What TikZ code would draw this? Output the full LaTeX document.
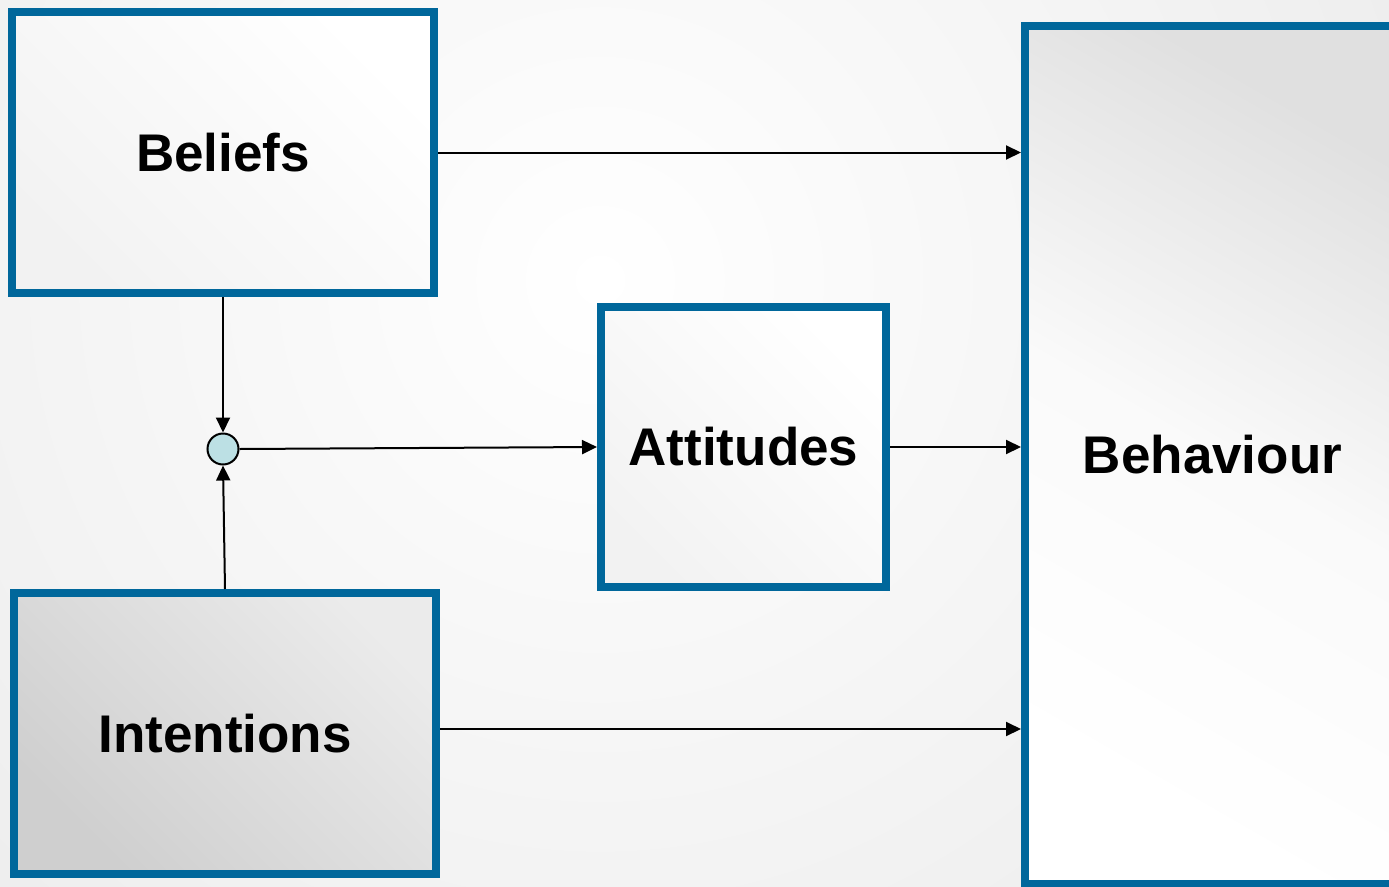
\documentclass[tikz,border=0pt]{standalone}
\usepackage{fontspec}
\setmainfont{Liberation Sans}
\usetikzlibrary{arrows.meta}
\definecolor{boxblue}{RGB}{0,103,155}
\definecolor{dotfill}{RGB}{188,224,228}
\tikzset{
  box/.style={draw=boxblue, line width=8pt, rectangle, inner sep=0pt,
    font=\fontsize{53}{60}\selectfont\bfseries},
  conn/.style={line width=2pt, -{Triangle[length=15pt,width=14pt]}},
  joint/.style={circle, draw=black, line width=2pt, fill=dotfill, minimum size=31pt, inner sep=0pt}
}
\begin{document}
\begin{tikzpicture}[x=1pt,y=-1pt]
\useasboundingbox (0,0) rectangle (1389,886);
\begin{scope}
  \clip (0,0) rectangle (1389,886);
  \shade[inner color=white, outer color=black!15] (600,280) circle (1900pt);
  \node[box, minimum width=375pt, minimum height=858pt,
        top color=black!12, bottom color=white, middle color=black!2, shading angle=-30]
        (beh) at (1212.5,455) {Behaviour};
\end{scope}
\node[box, minimum width=422pt, minimum height=281pt,
      top color=white, bottom color=black!5, shading angle=-45]
      (bel) at (223,152.5) {Beliefs};
\node[box, minimum width=285pt, minimum height=280pt,
      top color=white, bottom color=black!5, shading angle=-45]
      (att) at (743.5,447) {Attitudes};
\node[box, minimum width=422pt, minimum height=281pt,
      top color=black!8, bottom color=black!19, shading angle=-45]
      (int) at (225,733.5) {Intentions};
\node[joint] (j) at (223,449) {};
\draw[conn] (bel.east) -- (bel.east -| beh.west);
\draw[conn] (bel.south) -- (j.north);
\draw[conn] (int.north) -- (j.south);
\draw[conn] (j.east) -- (att.west);
\draw[conn] (att.east) -- (att.east -| beh.west);
\coordinate (ie) at ([yshift=4.5pt]int.east);
\draw[conn] (ie) -- (ie -| beh.west);
\end{tikzpicture}
\end{document}
